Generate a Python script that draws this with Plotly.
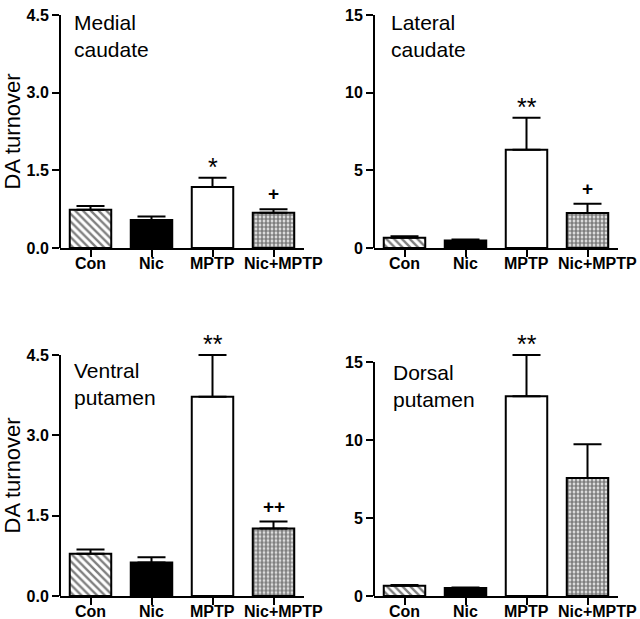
import plotly.graph_objects as go

categories = ["Con", "Nic", "MPTP", "Nic+MPTP"]

medial = [0.74, 0.54, 1.18, 0.68]
medial_err = [0.07, 0.07, 0.175, 0.07]
medial_sig = ["", "", "*", "+"]

lateral = [0.66, 0.49, 6.32, 2.25]
lateral_err = [0.09, 0.05, 2.06, 0.60]
lateral_sig = ["", "", "**", "+"]

ventral = [0.79, 0.625, 3.72, 1.26]
ventral_err = [0.08, 0.10, 0.78, 0.13]
ventral_sig = ["", "", "**", "++"]

dorsal = [0.66, 0.51, 12.8, 7.57]
dorsal_err = [0.04, 0.04, 2.65, 2.15]
dorsal_sig = ["", "", "**", ""]

panel_titles = ["Medial<br>caudate", "Lateral<br>caudate", "Ventral<br>putamen", "Dorsal<br>putamen"]
y_left_ticks = [0, 1.5, 3.0, 4.5]
y_right_ticks = [0, 5, 10, 15]
y_title = "DA turnover"

# bar styles per group: (fill colour, pattern shape, pattern size, solidity)
group_styles = [
    ("white", "\\", 5.5, 0.42),
    ("black", "", 8, 0.3),
    ("white", "", 8, 0.3),
    ("white", ".", 4, 0.7),
]
# horizontal nudge (px) of the category labels, as in the original layout
label_nudge = [0, 0, 0, 10]

W, H = 640, 619
HEADROOM = 0.06  # extra space above the top tick so caps are not clipped
FONT = "Liberation Sans, Arial"


def px_x(v):
    return v / W


def px_y(v):
    return 1 - v / H


panels = [
    dict(vals=medial, err=medial_err, sig=medial_sig, title=panel_titles[0],
         xd=(60, 304), yd=(15, 248), rng=4.5, ticks=y_left_ticks, fmt=".1f",
         tx=72, ty=9),
    dict(vals=lateral, err=lateral_err, sig=lateral_sig, title=panel_titles[1],
         xd=(374, 618), yd=(15, 248), rng=15, ticks=y_right_ticks, fmt="d",
         tx=389, ty=9),
    dict(vals=ventral, err=ventral_err, sig=ventral_sig, title=panel_titles[2],
         xd=(60, 304), yd=(355, 596), rng=4.5, ticks=y_left_ticks, fmt=".1f",
         tx=72, ty=357),
    dict(vals=dorsal, err=dorsal_err, sig=dorsal_sig, title=panel_titles[3],
         xd=(374, 618), yd=(362, 596), rng=15, ticks=y_right_ticks, fmt="d",
         tx=391, ty=359),
]

fig = go.Figure()
tick_font = dict(family=FONT, size=16, color="black", weight="bold")
annotations = []
shapes = []

for i, p in enumerate(panels):
    n = i + 1
    xa = "x" if n == 1 else f"x{n}"
    ya = "y" if n == 1 else f"y{n}"
    top = p["rng"] * (1 + HEADROOM)
    h = p["yd"][1] - p["yd"][0]
    dom_top_px = p["yd"][0] - HEADROOM * h
    for j, cat in enumerate(categories):
        col, shape, psize, sol = group_styles[j]
        marker = dict(color=col, line=dict(color="black", width=2))
        if shape:
            marker["pattern"] = dict(shape=shape, fgcolor="black", bgcolor="white",
                                     size=psize, solidity=sol, fillmode="overlay")
        fig.add_trace(go.Bar(
            x=[cat], y=[p["vals"][j]], xaxis=xa, yaxis=ya, width=0.68,
            marker=marker, cliponaxis=False,
            error_y=dict(type="data", symmetric=False, array=[p["err"][j]],
                         arrayminus=[0], color="black", thickness=2, width=14),
            showlegend=False, name=cat,
        ))
    xkey = "xaxis" if n == 1 else f"xaxis{n}"
    ykey = "yaxis" if n == 1 else f"yaxis{n}"
    fig.update_layout(**{
        xkey: dict(domain=[px_x(p["xd"][0]), px_x(p["xd"][1])], anchor=ya,
                   type="category", categoryorder="array", categoryarray=categories,
                   range=[-0.5, 3.5], showline=True, automargin=False,
                   showticklabels=False,
                   linecolor="black", linewidth=2, ticks="outside", ticklen=7,
                   tickwidth=2, tickcolor="black", showgrid=False, zeroline=False),
        ykey: dict(domain=[px_y(p["yd"][1]), px_y(dom_top_px)], anchor=xa,
                   range=[0, top], tickvals=p["ticks"], tickformat=p["fmt"],
                   showline=False, automargin=False, ticks="outside",
                   ticklen=7, tickwidth=2, tickcolor="black", showgrid=False,
                   zeroline=False, tickfont=tick_font),
    })
    # y axis line spanning only from 0 to the top tick
    shapes.append(dict(type="line", xref=f"{xa} domain", yref=ya, x0=0, x1=0,
                       y0=0, y1=max(p["ticks"]), line=dict(color="black", width=2),
                       layer="above"))
    # category labels
    for cat, nudge in zip(categories, label_nudge):
        annotations.append(dict(
            text=cat, x=cat, xref=xa, y=0, yref=f"{ya} domain", xanchor="center",
            yanchor="top", yshift=-5, xshift=nudge, showarrow=False, font=tick_font,
        ))
    annotations.append(dict(
        text=p["title"], xref="paper", yref="paper", x=px_x(p["tx"]), y=px_y(p["ty"]),
        xanchor="left", yanchor="top", align="left", showarrow=False,
        font=dict(family=FONT, size=21, color="black"),
    ))
    for c, v, e, s in zip(categories, p["vals"], p["err"], p["sig"]):
        if s:
            plus = "+" in s
            annotations.append(dict(
                text=s, x=c, y=v + e, xref=xa, yref=ya,
                xanchor="center", yanchor="bottom", showarrow=False,
                yshift=3 if plus else -5,
                font=dict(family=FONT, size=19 if plus else 25,
                          color="black", weight="bold" if plus else "normal"),
            ))
    if n in (1, 3):
        annotations.append(dict(
            text=y_title, xref="paper", yref="paper", x=px_x(12),
            y=px_y((p["yd"][0] + p["yd"][1]) / 2), xanchor="center", yanchor="middle",
            textangle=-90, showarrow=False,
            font=dict(family=FONT, size=22, color="black"),
        ))

fig.update_layout(
    width=W, height=H, margin=dict(l=0, r=0, t=0, b=0, autoexpand=False),
    paper_bgcolor="white", plot_bgcolor="white",
    annotations=annotations, shapes=shapes, barmode="overlay",
)

fig.write_html(
    "out.html",
    config={"displayModeBar": False},
    post_script="document.body.style.margin='0';document.body.style.overflow='hidden';",
)
